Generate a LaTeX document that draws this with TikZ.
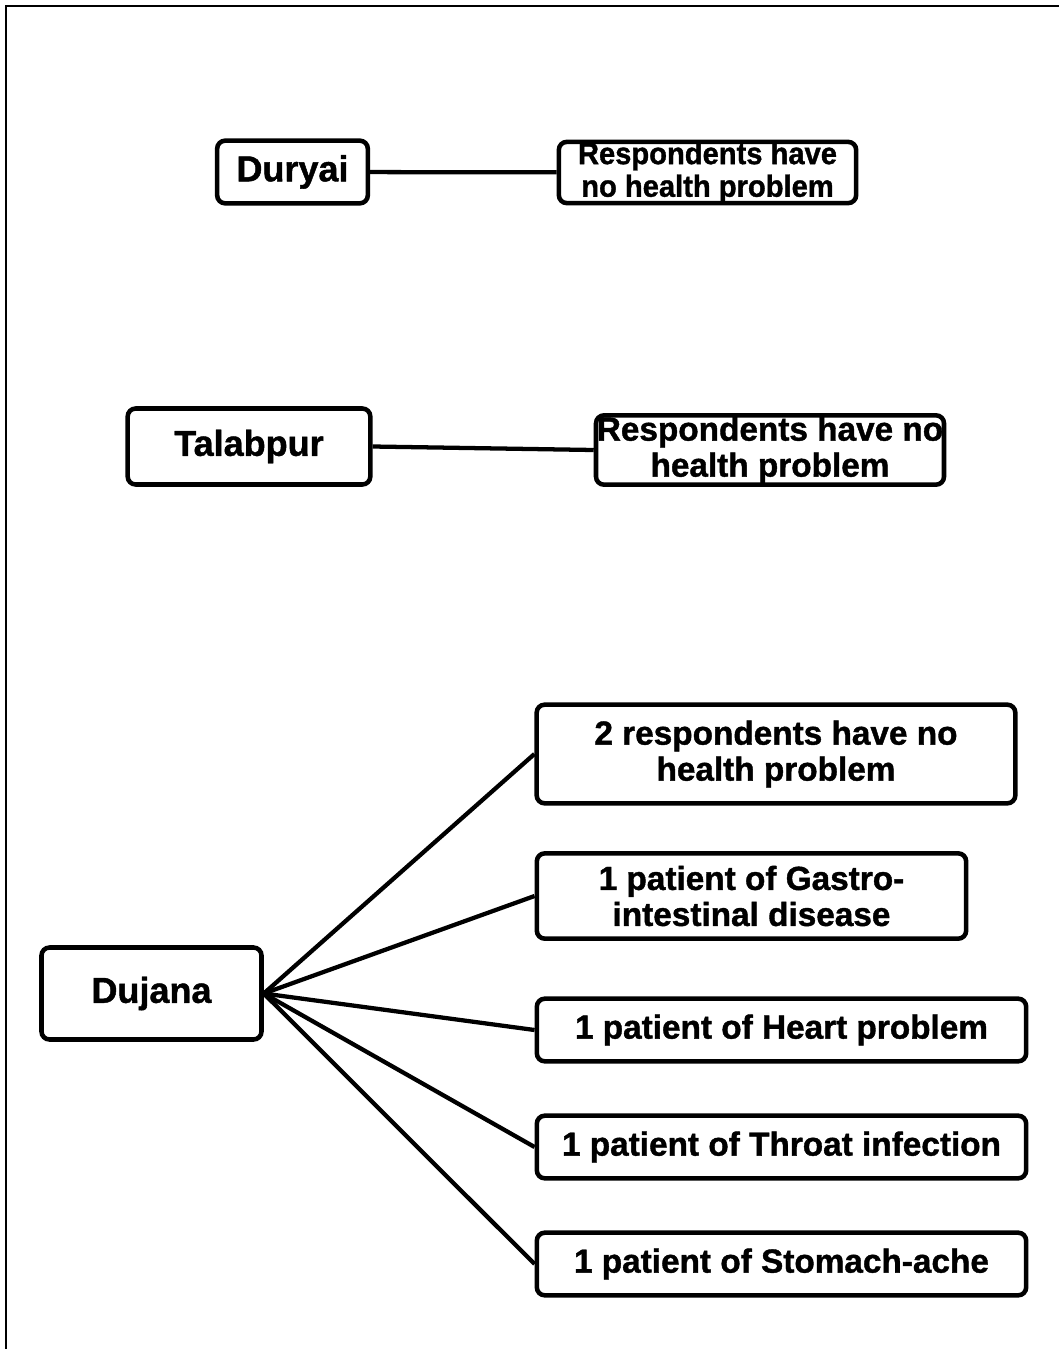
\documentclass[tikz,border=0pt]{standalone}
\usepackage{fontspec}
\setmainfont{Liberation Sans}
\newfontfamily\heavy[FakeBold=1.2]{Liberation Sans Bold}
\begin{document}
\begin{tikzpicture}[x=0.75pt,y=-0.75pt,
  box/.style={draw=black,line width=3.4pt,rounded corners=6pt,fill=white,inner sep=0pt,align=center},
  conn/.style={draw=black,line width=3.2pt},
  frameline/.style={draw=black,line width=1.5pt}]
\useasboundingbox (0,0) rectangle (1059,1349);
\draw[frameline] (6,1349) -- (6,6) -- (1059,6);

\node[box,minimum width=113pt,minimum height=47pt,font=\heavy\fontsize{27}{30}\selectfont] (duryai) at (292.5,172) {Duryai};
\node[box,minimum width=223pt,minimum height=45pt,font=\heavy\fontsize{23}{24.5}\selectfont] (r1) at (707.5,172.5) {\scalebox{0.95}[1]{Respondents have}\\\scalebox{0.95}[1]{no health problem}};
\draw[conn] (duryai) -- (r1);

\node[box,minimum width=182pt,minimum height=57pt,font=\heavy\fontsize{27}{30}\selectfont] (talabpur) at (249,446.5) {Talabpur};
\node[box,minimum width=261pt,minimum height=52pt,font=\heavy\fontsize{25}{27}\selectfont] (r2) at (770,450) {Respondents have no\\health problem};
\draw[conn] (talabpur.east) -- (r2.west);

\node[box,minimum width=165pt,minimum height=69pt,font=\heavy\fontsize{27}{30}\selectfont] (dujana) at (151.5,993.5) {Dujana};
\begin{scope}[every node/.style={box,font=\heavy\fontsize{25}{27}\selectfont}]
\node[minimum width=359pt,minimum height=74pt] (d1) at (776,754) {2 respondents have no\\health problem};
\node[minimum width=322pt,minimum height=64pt] (d2) at (751.5,896) {1 patient of Gastro-\\intestinal disease};
\node[minimum width=367pt,minimum height=47pt] (d3) at (781.5,1030) {1 patient of Heart problem};
\node[minimum width=367pt,minimum height=47pt] (d4) at (781.5,1147) {1 patient of Throat infection};
\node[minimum width=367pt,minimum height=47pt] (d5) at (781.5,1264) {1 patient of Stomach-ache};
\end{scope}
\foreach \t in {d1,d2,d3,d4,d5} {\draw[conn] (dujana.east) -- (\t.west);}
\end{tikzpicture}
\end{document}
